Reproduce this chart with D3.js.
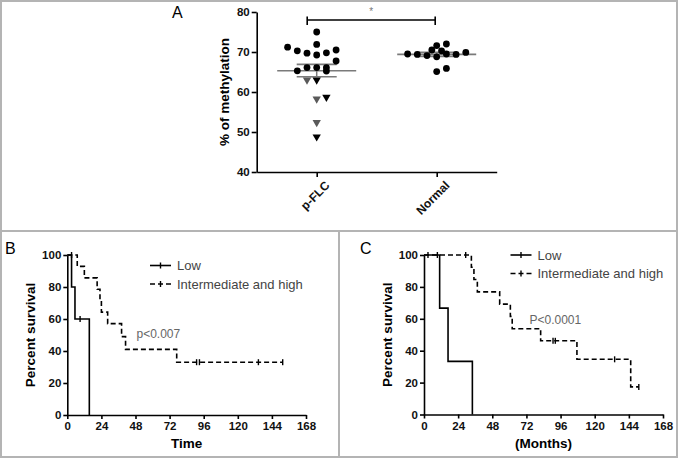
<!DOCTYPE html>
<html><head><meta charset="utf-8">
<script src="https://cdn.jsdelivr.net/npm/d3@7"></script>
<style>
body{margin:0;background:#fff;}
svg{display:block;font-family:"Liberation Sans",Arial,sans-serif;}
</style></head>
<body>
<script>
// ---------- Panel A data ----------
const groups = ["p-FLC", "Normal"];
const yTicksA = [40, 50, 60, 70, 80];
const pflcCircleVals = [75, 71.9, 71.2, 70.3, 69.7, 69.25, 69.8, 70.5, 67.75, 65.3, 66.1, 66.1, 66.1, 65.25];
const pflcCircleCols = [0, 0, -3, -2, -1, 0, 1, 2, 2, -2, -1, 0, 1, 1];
const pflcGrayTriVals = [63, 58.25, 52.4];
const pflcGrayTriCols = [-1, 0, 0];
const pflcBlackTriVals = [63, 58.7, 48.8];
const pflcBlackTriCols = [0, 1, 0];
const normalVals = [69.5, 69.4, 69.1, 70.5, 71.6, 72, 70.3, 68.8, 69.5, 69.4, 69.9, 65.1, 65.9];
const normalCols = [-3, -2, -1, -0.5, 0, 1, 0.5, 0, 1, 2, 3, 0, 1];
const groupMeans = [65.3, 69.4];
const groupSemLow = [63.8, 68.9];
const groupSemHigh = [66.9, 69.9];

// ---------- Panel B data ----------
const xTicksKM = [0, 24, 48, 72, 96, 120, 144, 168];
const yTicksKM = [0, 20, 40, 60, 80, 100];
const bLowTimes = [0, 3, 5.4, 15.5];
const bLowSurv = [100, 80, 60, 0];
const bLowCensorT = [9];
const bLowCensorS = [60];
const bIntTimes = [0, 7, 12, 21, 23, 24, 28.4, 38.2, 41, 77, 151.6];
const bIntSurv = [100, 92.9, 85.7, 78.6, 71.4, 64.3, 57.1, 49, 41, 33, 33];
const bIntCensorT = [3, 91, 93, 134.5, 151.6];
const bIntCensorS = [100, 33, 33, 33, 33];

// ---------- Panel C data ----------
const cLowTimes = [0, 11, 16.9, 34];
const cLowSurv = [100, 66.7, 33.3, 0];
const cLowCensorT = [2.8, 9.4];
const cLowCensorS = [100, 100];
const cIntTimes = [0, 33.3, 35.1, 37.5, 53.2, 60.7, 62, 82, 107.5, 145.3, 151];
const cIntSurv = [100, 92.3, 84.6, 76.9, 69.2, 61.5, 53.8, 46.2, 34.6, 17.3, 17.3];
const cIntCensorT = [29.3, 90.7, 92.3, 134, 151];
const cIntCensorS = [100, 46.2, 46.2, 34.6, 17.3];

const W = 678, H = 458;
const svg = d3.select("body").append("svg").attr("width", W).attr("height", H);

// ---------- borders ----------
const bc = "#b4b4b4";
svg.append("rect").attr("x", 1).attr("y", 1).attr("width", W - 2).attr("height", H - 2)
  .attr("fill", "none").attr("stroke", bc).attr("stroke-width", 2);
svg.append("line").attr("x1", 0).attr("x2", W).attr("y1", 231).attr("y2", 231).attr("stroke", bc).attr("stroke-width", 2);
svg.append("line").attr("x1", 339).attr("x2", 339).attr("y1", 231).attr("y2", H).attr("stroke", bc).attr("stroke-width", 2);

function styleAxis(g) {
  g.selectAll("path.domain").attr("stroke", "#000").attr("stroke-width", 1.6);
  g.selectAll(".tick line").attr("stroke", "#000").attr("stroke-width", 1.6);
  g.selectAll(".tick text").attr("font-family", "Liberation Sans, Arial, sans-serif")
    .attr("font-weight", "bold").attr("font-size", 11.5).attr("fill", "#111");
}

// ---------- Panel A ----------
{
  const x = d3.scalePoint().domain(groups).range([256.7, 496.7]).padding(0.5);
  const y = d3.scaleLinear().domain([40, 80]).range([172, 12]);
  const colW = 9.7;
  const gA = svg.append("g");
  const ya = gA.append("g").attr("transform", "translate(256.7,0)")
    .call(d3.axisLeft(y).tickValues(yTicksA).tickSize(5).tickPadding(2).tickSizeOuter(0));
  styleAxis(ya);
  const xa = gA.append("g").attr("transform", "translate(0,172)")
    .call(d3.axisBottom(x).tickSize(5).tickSizeOuter(0));
  styleAxis(xa);
  xa.selectAll(".tick text").attr("text-anchor", "end")
    .attr("transform", "translate(3,4) rotate(-45)").attr("dy", "0.7em").attr("dx", "0")
    .attr("y", 6).attr("font-size", 12);

  gA.append("text").attr("transform", "translate(229,92) rotate(-90)")
    .attr("text-anchor", "middle").attr("font-weight", "bold").attr("font-size", 13.5)
    .text("% of methylation");
  gA.append("text").attr("x", 172).attr("y", 18).attr("font-size", 16).text("A");

  // mean & sem lines
  const lineCol = "#7a7a7a";
  groups.forEach((gname, i) => {
    const cx = x(gname);
    gA.append("line").attr("x1", cx).attr("x2", cx).attr("y1", y(groupSemLow[i])).attr("y2", y(groupSemHigh[i]))
      .attr("stroke", lineCol).attr("stroke-width", 1.5);
    gA.append("line").attr("x1", cx - 39.5).attr("x2", cx + 39.5).attr("y1", y(groupMeans[i])).attr("y2", y(groupMeans[i]))
      .attr("stroke", lineCol).attr("stroke-width", 1.6);
    [groupSemLow[i], groupSemHigh[i]].forEach(v => {
      gA.append("line").attr("x1", cx - 20).attr("x2", cx + 20).attr("y1", y(v)).attr("y2", y(v))
        .attr("stroke", lineCol).attr("stroke-width", 1.6);
    });
  });

  const tri = d3.symbol().type(d3.symbolTriangle).size(30);
  function drawTris(vals, cols, color) {
    vals.forEach((v, i) => {
      gA.append("path").attr("d", tri)
        .attr("transform", `translate(${x("p-FLC") + cols[i] * colW},${y(v)}) rotate(180)`)
        .attr("fill", color);
    });
  }
  drawTris(pflcGrayTriVals, pflcGrayTriCols, "#5a5a5a");
  drawTris(pflcBlackTriVals, pflcBlackTriCols, "#000");
  pflcCircleVals.forEach((v, i) => {
    gA.append("circle").attr("cx", x("p-FLC") + pflcCircleCols[i] * colW).attr("cy", y(v)).attr("r", 3.4).attr("fill", "#000");
  });
  normalVals.forEach((v, i) => {
    gA.append("circle").attr("cx", x("Normal") + normalCols[i] * colW).attr("cy", y(v)).attr("r", 3.4).attr("fill", "#000");
  });

  // significance bracket
  const bx1 = x("p-FLC") - 9.5, bx2 = x("Normal") - 1.5;
  gA.append("line").attr("x1", bx1).attr("x2", bx2).attr("y1", 20).attr("y2", 20).attr("stroke", "#000").attr("stroke-width", 1.6);
  [bx1, bx2].forEach(bx => gA.append("line").attr("x1", bx).attr("x2", bx).attr("y1", 16.5).attr("y2", 25)
    .attr("stroke", "#000").attr("stroke-width", 1.6));
  gA.append("text").attr("x", (bx1 + bx2) / 2).attr("y", 15).attr("text-anchor", "middle")
    .attr("font-size", 10).attr("fill", "#777").text("*");
}

// ---------- KM panel helper ----------
function kmPanel(opt) {
  const x = d3.scaleLinear().domain([0, 168]).range([opt.x0, opt.x1]);
  const y = d3.scaleLinear().domain([0, 100]).range([opt.y0, opt.y1]);
  const g = svg.append("g");
  const ya = g.append("g").attr("transform", `translate(${opt.x0},0)`)
    .call(d3.axisLeft(y).tickValues(yTicksKM).tickSize(4).tickPadding(2).tickSizeOuter(0));
  styleAxis(ya);
  const xa = g.append("g").attr("transform", `translate(0,${opt.y0})`)
    .call(d3.axisBottom(x).tickValues(xTicksKM).tickSize(4).tickPadding(3).tickSizeOuter(0));
  styleAxis(xa);
  xa.selectAll(".tick text").attr("font-size", 11.5);
  ya.selectAll(".tick text").attr("font-size", 11.5);

  g.append("text").attr("transform", `translate(${opt.x0 - 32},${(opt.y0 + opt.y1) / 2}) rotate(-90)`)
    .attr("text-anchor", "middle").attr("font-weight", "bold").attr("font-size", 13.5).text("Percent survival");
  g.append("text").attr("x", (opt.x0 + opt.x1) / 2).attr("y", 447.5).attr("text-anchor", "middle")
    .attr("font-weight", "bold").attr("font-size", 13.5).text(opt.xlabel);
  g.append("text").attr("x", opt.letterX).attr("y", 254).attr("font-size", 16).text(opt.letter);

  const line = d3.line().x(d => x(d[0])).y(d => y(d[1])).curve(d3.curveStepAfter);
  function curve(times, surv, dashed) {
    const pts = times.map((t, i) => [t, surv[i]]);
    g.append("path").attr("d", line(pts)).attr("fill", "none").attr("stroke", "#000")
      .attr("stroke-width", 1.6).attr("stroke-dasharray", dashed ? "5,3" : null);
  }
  function censors(ts, ss) {
    ts.forEach((t, i) => {
      g.append("line").attr("x1", x(t)).attr("x2", x(t)).attr("y1", y(ss[i]) - 3).attr("y2", y(ss[i]) + 3)
        .attr("stroke", "#000").attr("stroke-width", 1.4);
    });
  }
  curve(opt.lowT, opt.lowS, false);
  censors(opt.lowCT, opt.lowCS);
  curve(opt.intT, opt.intS, true);
  censors(opt.intCT, opt.intCS);

  // legend
  const lg = g.append("g");
  const items = [["Low", false], ["Intermediate and high", true]];
  items.forEach((it, i) => {
    const ly = opt.legY + i * 18.5;
    lg.append("line").attr("x1", opt.legX).attr("x2", opt.legX + 21).attr("y1", ly).attr("y2", ly)
      .attr("stroke", "#000").attr("stroke-width", 1.6).attr("stroke-dasharray", it[1] ? "5,3" : null);
    lg.append("line").attr("x1", opt.legX + 10.5).attr("x2", opt.legX + 10.5).attr("y1", ly - 3).attr("y2", ly + 3)
      .attr("stroke", "#000").attr("stroke-width", 1.4);
    lg.append("text").attr("x", opt.legX + 27).attr("y", ly).attr("dy", "0.35em")
      .attr("font-size", 13).attr("fill", "#444").text(it[0]);
  });
  g.append("text").attr("x", opt.pX).attr("y", opt.pY).attr("dy", "0.35em")
    .attr("font-size", 12).attr("fill", "#666").text(opt.pText);
}

kmPanel({
  x0: 67.3, x1: 306, y0: 415, y1: 255, xlabel: "Time", letter: "B", letterX: 5,
  lowT: bLowTimes, lowS: bLowSurv, lowCT: bLowCensorT, lowCS: bLowCensorS,
  intT: bIntTimes, intS: bIntSurv, intCT: bIntCensorT, intCS: bIntCensorS,
  legX: 150, legY: 265.5, pX: 136.5, pY: 334, pText: "p<0.007"
});
kmPanel({
  x0: 424, x1: 663, y0: 414.5, y1: 255, xlabel: "(Months)", letter: "C", letterX: 360,
  lowT: cLowTimes, lowS: cLowSurv, lowCT: cLowCensorT, lowCS: cLowCensorS,
  intT: cIntTimes, intS: cIntSurv, intCT: cIntCensorT, intCS: cIntCensorS,
  legX: 510.5, legY: 255, pX: 529.5, pY: 319.5, pText: "P<0.0001"
});
</script>
</body></html>
